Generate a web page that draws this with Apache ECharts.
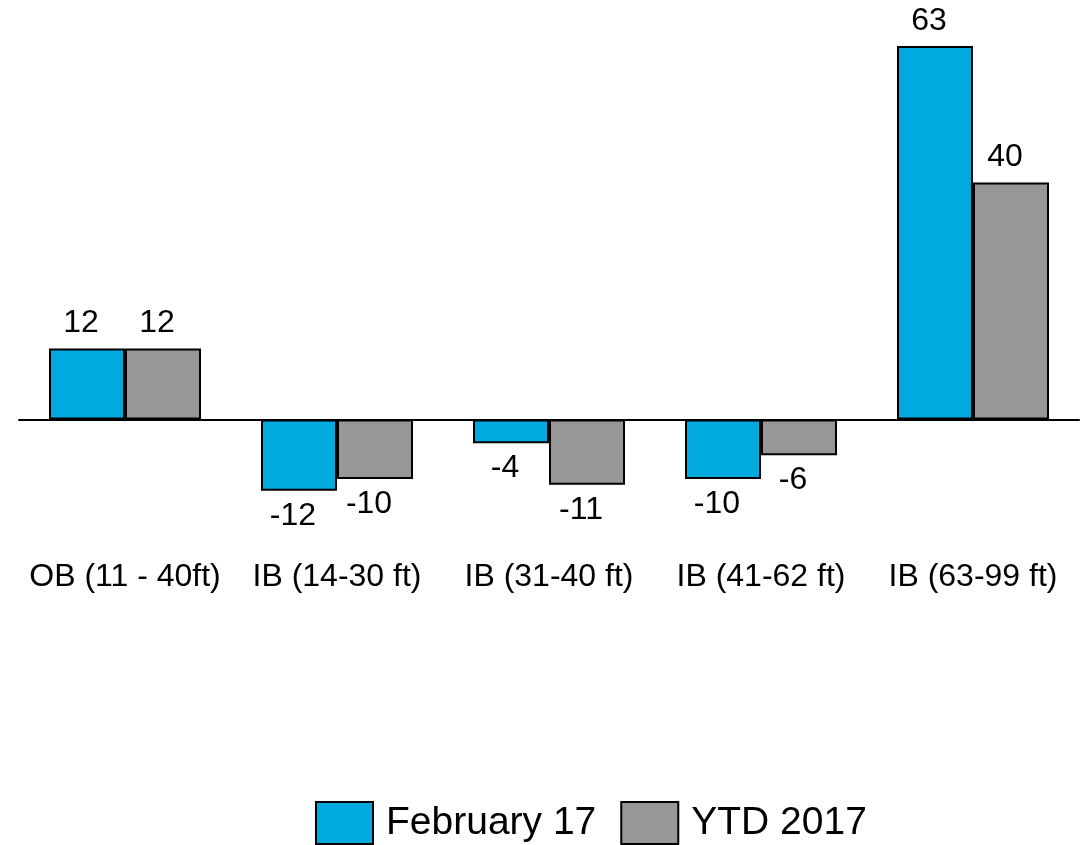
<!DOCTYPE html>
<html>
<head>
<meta charset="utf-8">
<style>
  html, body { margin: 0; padding: 0; background: #ffffff; }
  #chart { width: 1082px; height: 845px; }
</style>
<script src="https://cdn.jsdelivr.net/npm/echarts@6/dist/echarts.min.js"></script>
</head>
<body>
<div id="chart"></div>
<script>
// Size-class categories and the two compared series
const categories = ['OB (11 - 40ft)', 'IB (14-30 ft)', 'IB (31-40 ft)', 'IB (41-62 ft)', 'IB (63-99 ft)'];
const seriesNames = ['February 17', 'YTD 2017'];
const february17 = [12, -12, -4, -10, 63];
const ytd2017 = [12, -10, -11, -6, 40];
const seriesColors = ['#00a9de', '#979797'];

const FONT = 'Liberation Sans, Arial, Helvetica, sans-serif';

// Value labels sit outside the bar end: above for positives, below for negatives
function withLabels(values) {
  return values.map(function (v) {
    return {
      value: v,
      label: { position: v >= 0 ? 'top' : 'bottom' }
    };
  });
}

function makeSeries(name, values, color) {
  return {
    name: name,
    type: 'bar',
    xAxisIndex: 0,
    data: withLabels(values),
    barGap: '0%',
    barCategoryGap: '28.3%',
    itemStyle: { color: color, borderColor: '#000000', borderWidth: 2 },
    label: {
      show: true,
      distance: 9,
      offset: [-6, 0],
      color: '#000000',
      fontSize: 32,
      fontFamily: FONT
    },
    emphasis: { disabled: true },
    animation: false
  };
}

const chart = echarts.init(document.getElementById('chart'), null, { renderer: 'canvas' });

chart.setOption({
  backgroundColor: '#ffffff',
  animation: false,
  grid: { left: 19, right: 3, top: 46, bottom: 289, containLabel: false },
  legend: {
    data: seriesNames,
    left: 315,
    top: 801,
    padding: 0,
    itemWidth: 57,
    itemHeight: 42,
    itemGap: 24,
    icon: 'rect',
    textStyle: { fontSize: 39, fontFamily: FONT, color: '#000000', padding: [0, 0, 0, 8] }
  },
  xAxis: [
    {
      // zero baseline
      type: 'category',
      data: categories,
      axisLine: { show: true, onZero: true, lineStyle: { color: '#000000', width: 2 } },
      axisTick: { show: false },
      axisLabel: { show: false },
      splitLine: { show: false }
    },
    {
      // category names along the bottom
      type: 'category',
      data: categories,
      position: 'bottom',
      axisLine: { show: false, onZero: false },
      axisTick: { show: false },
      axisLabel: { show: true, margin: 5, fontSize: 32, fontFamily: FONT, color: '#000000', interval: 0 },
      splitLine: { show: false }
    }
  ],
  yAxis: {
    type: 'value',
    min: -23,
    max: 63,
    show: false,
    splitLine: { show: false }
  },
  series: [
    makeSeries(seriesNames[0], february17, seriesColors[0]),
    makeSeries(seriesNames[1], ytd2017, seriesColors[1])
  ]
});
</script>
</body>
</html>
